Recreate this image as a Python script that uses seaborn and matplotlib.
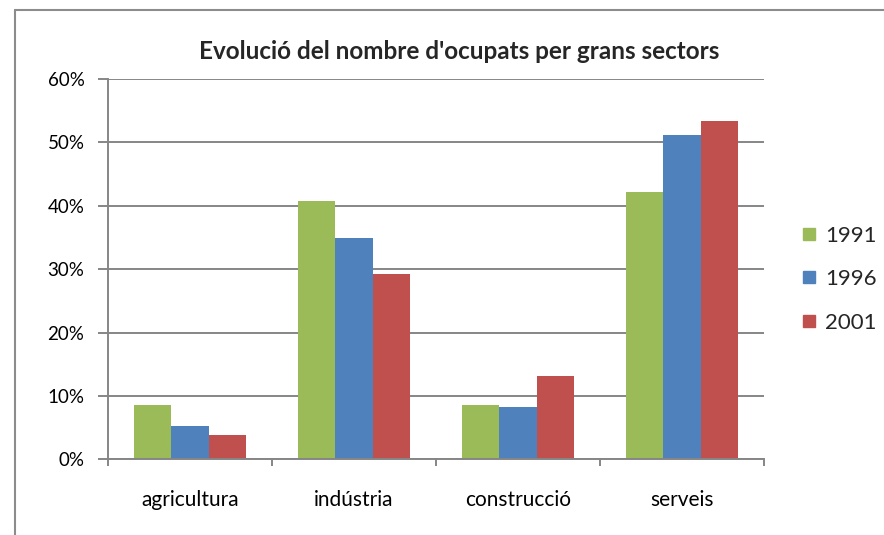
import pandas as pd
import matplotlib.pyplot as plt
import matplotlib.lines as mlines
import seaborn as sns
from matplotlib.ticker import FixedLocator, PercentFormatter

# --- Data ---
sectors = ["agricultura", "indústria", "construcció", "serveis"]
years = ["1991", "1996", "2001"]
pct_1991 = [8.5, 40.7, 8.5, 42.2]
pct_1996 = [5.3, 34.9, 8.2, 51.1]
pct_2001 = [3.8, 29.2, 13.2, 53.3]
colors = ["#9BBB59", "#4F81BD", "#C0504D"]

df = pd.DataFrame({
    "sector": sectors * 3,
    "year": [y for y in years for _ in sectors],
    "value": pct_1991 + pct_1996 + pct_2001,
})

sns.set_theme(style="white")
plt.rcParams["font.family"] = ["Lato", "DejaVu Sans"]
grid_col = "#868686"

fig = plt.figure(figsize=(8.84, 5.35), dpi=100)
ax = fig.add_axes([0.1222, 0.1415, 0.742, 0.711])

sns.barplot(data=df, x="sector", y="value", hue="year", palette=colors,
            width=0.68, saturation=1, linewidth=0, ax=ax, legend=False)

ax.set_ylim(0, 60)
ax.set_xlim(-0.5, 3.5)
ax.set_yticks(range(0, 61, 10))
ax.yaxis.set_major_formatter(PercentFormatter(decimals=0))
ax.yaxis.grid(True, color=grid_col, linewidth=1.4)
ax.set_axisbelow(True)
ax.set_xlabel("")
ax.set_ylabel("")

# category boundary ticks
ax.xaxis.set_minor_locator(FixedLocator([-0.5, 0.5, 1.5, 2.5, 3.5]))
ax.tick_params(axis="x", which="major", length=0, pad=22, labelsize=15, labelcolor="black")
ax.tick_params(axis="x", which="minor", bottom=True, length=5, width=1.4, color=grid_col)
ax.tick_params(axis="y", left=True, length=7, width=1.4, color=grid_col, pad=10,
               labelsize=13.5, labelcolor="black")

for side in ["top", "right"]:
    ax.spines[side].set_visible(False)
for side in ["left", "bottom"]:
    ax.spines[side].set_color(grid_col)
    ax.spines[side].set_linewidth(1.4)

fig.text(0.52, 0.903, "Evolució del nombre d'ocupats per grans sectors",
         ha="center", va="center", fontsize=17.5, fontweight="bold")

handles = [mlines.Line2D([], [], marker="s", linestyle="none", markersize=8.5,
                         markerfacecolor=c, markeredgecolor=c) for c in colors]
fig.legend(handles, years, loc="center left", bbox_to_anchor=(0.893, 0.478),
           frameon=False, fontsize=16, labelspacing=1.05, handletextpad=0.2,
           handlelength=1.0, borderaxespad=0)

# outer chart frame
fig.add_artist(mlines.Line2D([15 / 884, 15 / 884], [0, 1 - 10 / 535],
                             transform=fig.transFigure, color="#8c8c8c", linewidth=1.5))
fig.add_artist(mlines.Line2D([15 / 884, 1], [1 - 10 / 535, 1 - 10 / 535],
                             transform=fig.transFigure, color="#8c8c8c", linewidth=1.5))

fig.savefig("out.png", dpi=100)
